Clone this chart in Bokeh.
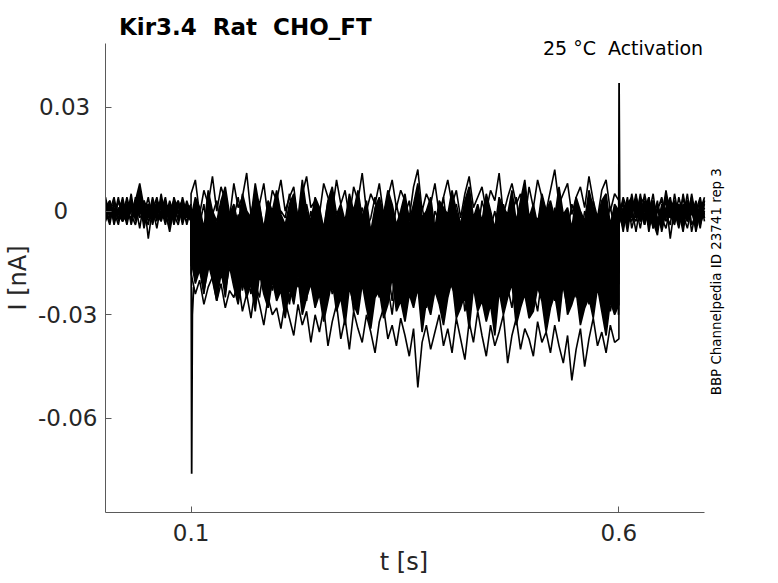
import numpy as np
from bokeh.plotting import figure
from bokeh.models import Range1d, FixedTicker, Label
from bokeh.embed import file_html
from bokeh.resources import INLINE

# ---------------- data (current in pA, time in ms) ----------------
# each sweep: baseline before step (0-100 ms), during step (100-600 ms), after step (600-700 ms)
sweep1_pre = [1, -3, 2, -1, 4, -2, 0, 3, 8, 1, -1, 2, -3, 5, -2, 0, 3, -3, 1, -2, 2]
sweep1_step = [5, 9, -1, 6, 2, 10, 0, 7, 3, -2,
               8, 1, 4, 11, -1, 5, 2, 8, -2, 6,
               3, 9, 0, 4, 7, -3, 5, 10, 1, 3,
               -1, 8, 4, 0, 9, 2, 6, -2, 7, 3,
               11, 0, 5, 2, 8, -1, 4, 9, 1, 6,
               3, -2, 7, 12, 0, 5, 2, 8, -1, 4,
               9, 2, 6, -2, 5, 10, 1, 4, 7, 0,
               6, 3, 11, -1, 4, 8, 2, 5, -3, 7,
               1, 9, 4, 0, 6, 12, 2, 5, 8, -1,
               4, 7, 1, 10, 3, -2, 6, 9, 0, 5, 3]
sweep1_post = [2, -4, 3, -1, 5, -3, 0, 4, -5, 1, -2, 6, -1, -4, 2, 0, -3, 5, -2, 1, -1]

sweep2_pre = [-2, 3, -4, 1, 0, -3, 2, -1, 3, -5, 1, 2, -2, 0, 4, -3, -1, 2, -4, 1, 0]
sweep2_step = [-2, 4, 1, -5, 6, 0, -3, 3, 7, -1,
               2, -4, 5, 0, -2, 8, 1, -5, 3, 0,
               6, -1, -4, 2, 5, -2, 9, 0, -3, 4,
               1, -5, 3, 7, -1, 2, -3, 5, 0, 6,
               -2, 3, -6, 1, 4, -1, 6, 2, -4, 0,
               5, -3, 2, 8, -2, 0, 4, -5, 3, 1,
               -1, 6, 0, -4, 3, 7, -2, 2, -3, 5,
               0, -5, 4, 1, -1, 6, -3, 3, 9, -2,
               2, -4, 5, 0, 3, -2, 7, -1, 1, -5,
               4, 0, -3, 6, 1, -2, 3, 5, -4, 2, 0]
sweep2_post = [-3, 1, -6, 2, -1, 4, -4, 0, 3, -2, -5, 1, 4, -3, 0, -6, 2, -1, 3, -4, 0]

sweep3_pre = [3, -1, 0, -4, 2, 1, -3, 4, -2, 0, 2, -4, 1, 3, -1, -5, 2, 0, -2, 3, -1]
sweep3_step = [-6, 1, -4, 2, -8, -1, 3, -5, 0, -7,
               -2, 4, -3, -9, 0, -4, 2, -6, 1, -3,
               -7, 0, -2, 5, -5, -1, -8, 2, -4, 1,
               -3, -6, 3, -1, -9, 0, -4, 2, -7, -2,
               1, -5, -2, 4, -6, -3, 0, -8, 2, -4,
               -1, 3, -7, -2, 1, -5, -9, 0, -3, 4,
               -6, -1, 2, -4, -8, 1, -3, -6, 3, -2,
               -5, 0, -7, 2, -3, -1, 4, -6, -2, -9,
               0, -4, 3, -5, -1, -7, 1, -3, -6, 2,
               -2, -8, 0, -4, 3, -6, -1, -3, 1, -5, -3]
sweep3_post = [1, -2, 4, -5, 0, 2, -3, -1, 5, -4, 1, -2, 3, 0, -5, 2, -1, 4, -3, -1, 2]

sweep4_pre = [-1, 2, -3, 3, -2, 4, -1, -4, 1, 2, -3, 0, 4, -2, 1, -3, 3, -1, 2, -4, 1]
sweep4_step = [-8, -2, -11, -5, -9, 0, -7, -12, -3, -6,
               -10, -1, -8, -4, -13, -6, -2, -9, -5, -11,
               1, -7, -4, -10, -6, -12, -3, -8, 0, -5,
               -9, -4, -13, -7, -2, -10, -5, -1, -11, -6,
               -3, -9, -6, -12, 0, -8, -4, -10, -7, -2,
               -11, -5, -1, -9, -6, -13, -3, -7, -10, -4,
               -8, 0, -6, -11, -3, -9, -5, -12, -2, -7,
               -4, -10, -7, -1, -8, -5, -13, -3, -9, -6,
               -12, -2, -8, -5, -10, 1, -6, -9, -4, -11,
               -7, -3, -10, -6, -1, -9, -12, -4, -8, -5, -6]
sweep4_post = [-1, 3, -3, 1, -6, 2, 4, -2, -4, 1, 3, -3, 0, 2, -4, 5, -2, -1, 1, -5, 3]

sweep5_pre = [0, -4, 3, -1, 1, -2, 5, -3, 0, 2, -1, -3, 3, 1, -4, 2, 0, -2, 4, -1, -3]
sweep5_step = [-13, -6, -10, -15, -4, -11, -8, -14, -7, -3,
               -12, -9, -16, -5, -10, -13, -2, -8, -11, -6,
               -15, -7, -12, -4, -9, -14, -10, -5, -16, -8,
               -3, -11, -7, -13, -9, -6, -15, -10, -4, -12,
               -8, -14, -5, -10, -16, -7, -11, -2, -9, -13,
               -6, -12, -9, -15, -4, -10, -8, -14, -11, -5,
               -13, -3, -10, -7, -12, -16, -6, -9, -4, -11,
               -10, -15, -5, -8, -13, -9, -2, -12, -7, -14,
               -6, -11, -16, -4, -9, -13, -8, -5, -12, -10,
               -15, -7, -3, -11, -9, -14, -6, -10, -13, -8, -9]
sweep5_post = [0, -5, 2, 4, -2, -1, 3, -6, 1, 0, -3, 4, -2, 1, -1, -4, 3, 0, -3, 2, -2]

sweep6_pre = [2, 0, -2, 4, -3, -1, 1, 2, -5, 3, 0, -2, 2, -1, 3, -4, 1, 2, -3, 0, 2]
sweep6_step = [-16, -9, -14, -6, -12, -18, -10, -15, -7, -13,
               -19, -11, -8, -14, -17, -5, -12, -16, -10, -13,
               -7, -15, -11, -18, -9, -13, -20, -8, -14, -12,
               -16, -6, -12, -15, -10, -19, -13, -7, -11, -17,
               -9, -14, -18, -11, -5, -13, -16, -10, -15, -8,
               -13, -19, -9, -12, -17, -7, -14, -11, -18, -10,
               -6, -15, -12, -20, -10, -14, -8, -16, -11, -13,
               -17, -9, -13, -7, -15, -12, -19, -10, -14, -6,
               -11, -16, -8, -13, -18, -10, -14, -5, -12, -17,
               -9, -13, -19, -11, -7, -15, -12, -16, -10, -14, -12]
sweep6_post = [3, -1, -4, 0, 2, -3, 5, -1, -2, 3, -6, 0, 2, -3, 4, -1, -5, 1, 2, -2, 1]

sweep7_pre = [-3, 1, 2, -2, 0, 3, -4, 1, 2, -1, 4, -3, -1, 2, -2, 3, -1, -4, 2, 1, -2]
sweep7_step = [-11, -18, -13, -21, -9, -16, -12, -19, -15, -8,
               -17, -14, -22, -10, -16, -19, -12, -7, -15, -20,
               -13, -18, -10, -16, -23, -12, -17, -14, -9, -19,
               -15, -11, -20, -13, -17, -8, -16, -21, -12, -18,
               -10, -19, -14, -22, -11, -16, -13, -18, -9, -15,
               -20, -12, -17, -10, -15, -21, -13, -8, -18, -14,
               -16, -9, -19, -13, -22, -11, -17, -15, -20, -12,
               -14, -18, -8, -16, -12, -21, -15, -10, -19, -13,
               -17, -11, -20, -14, -9, -18, -13, -22, -12, -16,
               -10, -19, -15, -12, -21, -14, -17, -9, -18, -13, -15]
sweep7_post = [-2, 4, 0, -3, 1, -5, 2, 0, 3, -3, 1, -1, -4, 5, -2, 1, 3, -6, 0, 4, -3]

sweep8_pre = [1, 3, -2, 0, -3, 2, 1, -2, 4, -1, -4, 3, 0, -1, 2, -3, 4, 0, -1, -3, 1]
sweep8_step = [-12, -20, -15, -23, -17, -11, -21, -16, -25, -14,
               -19, -22, -13, -18, -24, -15, -20, -10, -17, -23,
               -16, -21, -14, -26, -18, -12, -22, -19, -15, -24,
               -20, -13, -17, -23, -11, -19, -25, -16, -21, -14,
               -18, -24, -15, -20, -13, -22, -17, -26, -12, -19,
               -23, -16, -21, -11, -18, -24, -14, -20, -17, -25,
               -15, -22, -19, -13, -26, -17, -21, -12, -18, -23,
               -20, -14, -24, -18, -16, -22, -11, -19, -25, -15,
               -21, -17, -13, -23, -19, -26, -15, -20, -12, -22,
               -18, -24, -16, -21, -14, -19, -25, -13, -20, -17, -18]
sweep8_post = [2, -3, 1, -2, 4, 0, -4, 3, -1, 2, -2, -5, 1, 3, -1, -3, 0, 2, -4, 1, 3]

sweep9_pre = [-2, 0, 4, -3, 2, -1, -2, 3, 0, -3, 2, 1, -5, 2, 0, 1, -2, 3, -3, 2, -1]
sweep9_step = [-10, -16, -13, -19, -12, -17, -22, -14, -18, -11,
               -20, -15, -23, -17, -13, -21, -25, -16, -19, -14,
               -24, -18, -21, -27, -16, -22, -19, -26, -15, -23,
               -20, -28, -17, -24, -21, -14, -25, -19, -29, -22,
               -16, -23, -27, -20, -25, -18, -22, -30, -19, -24,
               -21, -15, -26, -23, -19, -28, -17, -24, -20, -27,
               -14, -22, -25, -18, -29, -21, -16, -26, -23, -19,
               -27, -20, -24, -15, -22, -28, -18, -25, -21, -17,
               -23, -29, -19, -26, -20, -16, -24, -22, -28, -18,
               -25, -21, -14, -27, -23, -19, -26, -20, -29, -22, -21]
sweep9_post = [-4, 0, 3, -1, -3, 5, -2, 1, -5, 0, 4, -1, 2, -3, 1, -2, 5, -4, -1, 3, -2]

sweep10_pre = [4, -2, 1, -1, -3, 2, 0, -2, 3, 1, -2, 4, -1, -3, 1, 2, -4, 1, 3, -2, 0]
sweep10_step = [-14, -21, -17, -24, -15, -20, -26, -18, -23, -16,
                -22, -27, -19, -25, -21, -29, -18, -24, -28, -20,
                -26, -23, -31, -22, -27, -19, -30, -25, -21, -28,
                -24, -32, -26, -20, -29, -25, -33, -22, -27, -30,
                -21, -28, -34, -25, -23, -31, -27, -19, -29, -26,
                -32, -24, -28, -22, -35, -26, -30, -23, -27, -33,
                -25, -20, -31, -28, -24, -34, -22, -29, -26, -32,
                -27, -36, -23, -30, -25, -21, -33, -28, -24, -31,
                -29, -22, -26, -35, -28, -24, -32, -20, -30, -27,
                -23, -33, -28, -25, -31, -22, -29, -36, -26, -30, -27]
sweep10_post = [1, -6, 2, 0, 3, -2, -1, 4, -3, -7, 2, 0, -2, 3, -4, 1, -1, 2, -6, 0, 4]

sweep11_pre = [-1, 2, -2, 3, 1, -4, 2, 0, -1, 3, -8, 1, 2, -2, 0, -6, 1, 3, -2, 0, -1]
sweep11_step = [-18, -24, -20, -27, -22, -19, -26, -21, -28, -23,
                -25, -20, -29, -24, -31, -22, -27, -33, -25, -30,
                -28, -34, -26, -31, -36, -27, -33, -29, -38, -30,
                -35, -28, -39, -32, -27, -37, -31, -40, -29, -34,
                -38, -30, -35, -41, -32, -28, -37, -33, -39, -31,
                -36, -42, -34, -51, -38, -33, -40, -35, -30, -39,
                -34, -41, -31, -37, -43, -32, -38, -29, -36, -42,
                -33, -39, -35, -30, -44, -36, -31, -40, -34, -37,
                -42, -32, -38, -35, -41, -33, -39, -44, -36, -49,
                -40, -34, -45, -37, -31, -39, -35, -41, -33, -38, -37]
sweep11_post = [-1, 2, -4, 5, -2, 1, -3, 0, 2, -4, -1, 3, -8, 1, -2, 4, -3, 0, -5, 2, -1]

# capacitive transients at step onset and offset
onset_t = [100.0, 100.7, 101.5, 103.0]
onset_i = [0, -76, -30, -22]
offset_t = [599.5, 600.2, 601.0]
offset_i = [-30, 37, 0]

sweeps = [
    (sweep1_pre, sweep1_step, sweep1_post),
    (sweep2_pre, sweep2_step, sweep2_post),
    (sweep3_pre, sweep3_step, sweep3_post),
    (sweep4_pre, sweep4_step, sweep4_post),
    (sweep5_pre, sweep5_step, sweep5_post),
    (sweep6_pre, sweep6_step, sweep6_post),
    (sweep7_pre, sweep7_step, sweep7_post),
    (sweep8_pre, sweep8_step, sweep8_post),
    (sweep9_pre, sweep9_step, sweep9_post),
    (sweep10_pre, sweep10_step, sweep10_post),
    (sweep11_pre, sweep11_step, sweep11_post),
]

y_ticks = [-0.06, -0.03, 0.0, 0.03]
y_tick_labels = ["-0.06", "-0.03", "0", "0.03"]
x_ticks = [0.1, 0.6]
x_tick_labels = ["0.1", "0.6"]

# ---------------- figure ----------------
FONT = "DejaVu Sans"
TXT = "#262626"
AX = "#5a5a5a"

X0, X1 = 0.0, 0.7          # data extent of the axes
Y0, Y1 = -0.0872, 0.0486

# frame is widened above and to the right so that the header texts sit inside it
p = figure(width=778, height=583,
           x_range=Range1d(X0, 0.7421), y_range=Range1d(Y0, 0.0609),
           output_backend="svg", toolbar_location=None,
           min_border_left=104, min_border_right=38,
           min_border_top=0, min_border_bottom=71)
p.outline_line_color = None
p.grid.visible = False
p.background_fill_color = "white"
p.border_fill_color = "white"


def sweep_xy(pre, step, post):
    t = np.concatenate([np.linspace(0, 100, len(pre)),
                        np.linspace(100, 600, len(step)),
                        np.linspace(600, 700, len(post))]) / 1000.0
    i = np.concatenate([pre, step, post]) / 1000.0
    return t, i


traces = [sweep_xy(*s) for s in sweeps]

# the many overlapping sweeps merge into solid black between an upper and a lower trace
t_a, i_top = traces[1]
_, i_bot = traces[9]
p.varea(x=t_a, y1=i_bot, y2=i_top, fill_color="black")
# holding-potential segments: solid band between two of the baseline traces
n_pre = len(sweep1_pre)
n_post = len(sweep1_post)
_, i_b1 = traces[0]
_, i_b2 = traces[4]
for sl in (slice(0, n_pre), slice(len(t_a) - n_post, len(t_a))):
    p.varea(x=t_a[sl], y1=i_b2[sl], y2=i_b1[sl], fill_color="black")

for t, i in traces:
    p.line(t, i, line_color="black", line_width=1.6)

p.line(np.array(onset_t) / 1000.0, np.array(onset_i) / 1000.0, line_color="black", line_width=1.8)
p.line(np.array(offset_t) / 1000.0, np.array(offset_i) / 1000.0, line_color="black", line_width=1.8)

for ax in (p.xaxis[0], p.yaxis[0]):
    ax.axis_line_color = AX
    ax.major_tick_line_color = AX
    ax.major_tick_in = 6
    ax.major_tick_out = 0
    ax.minor_tick_line_color = None
    ax.major_label_text_font = FONT
    ax.major_label_text_font_size = "23px"
    ax.major_label_text_color = TXT
    ax.axis_label_text_font = FONT
    ax.axis_label_text_font_size = "24px"
    ax.axis_label_text_font_style = "normal"
    ax.axis_label_text_color = TXT

p.xaxis.bounds = (X0, X1)
p.xaxis.ticker = FixedTicker(ticks=x_ticks)
p.xaxis.major_label_overrides = dict(zip(x_ticks, x_tick_labels))
p.xaxis.major_label_standoff = 11
# trailing spaces move the centred axis titles onto the centre of the drawn axes
p.xaxis.axis_label = "t [s]\u2007\u2007\u2008"
p.xaxis.axis_label_standoff = 4

p.yaxis.bounds = (Y0, Y1)
p.yaxis.ticker = FixedTicker(ticks=y_ticks)
# trailing figure/punctuation spaces reproduce the label placement of the original
pad = {"-0.06": "", "-0.03": "", "0": "\u2007\u2007", "0.03": "\u2008"}
p.yaxis.major_label_overrides = {v: s + pad[s] for v, s in zip(y_ticks, y_tick_labels)}
p.yaxis.major_label_standoff = 8
p.yaxis.axis_label = "I [nA]\u2007\u2007\u2008\u2009"
p.yaxis.axis_label_standoff = 3

p.add_layout(Label(x=0.01575, y=0.05314, text="Kir3.4\u00a0 Rat\u00a0 CHO_FT",
                   text_align="left", text_baseline="alphabetic",
                   text_font=FONT, text_font_size="23px", text_font_style="bold",
                   text_color="black"))
p.add_layout(Label(x=0.6984, y=0.04707, text="25 °C\u00a0 Activation",
                   text_align="right", text_baseline="alphabetic",
                   text_font=FONT, text_font_size="19px", text_color="black"))
p.add_layout(Label(x=0.7135, y=-0.0533, text="BBP Channelpedia ID 23741 rep 3",
                   angle=np.pi / 2, text_align="left", text_baseline="middle",
                   text_font=FONT, text_font_size="13.4px", text_color="black"))

open("out.html", "w").write(file_html(p, INLINE))
